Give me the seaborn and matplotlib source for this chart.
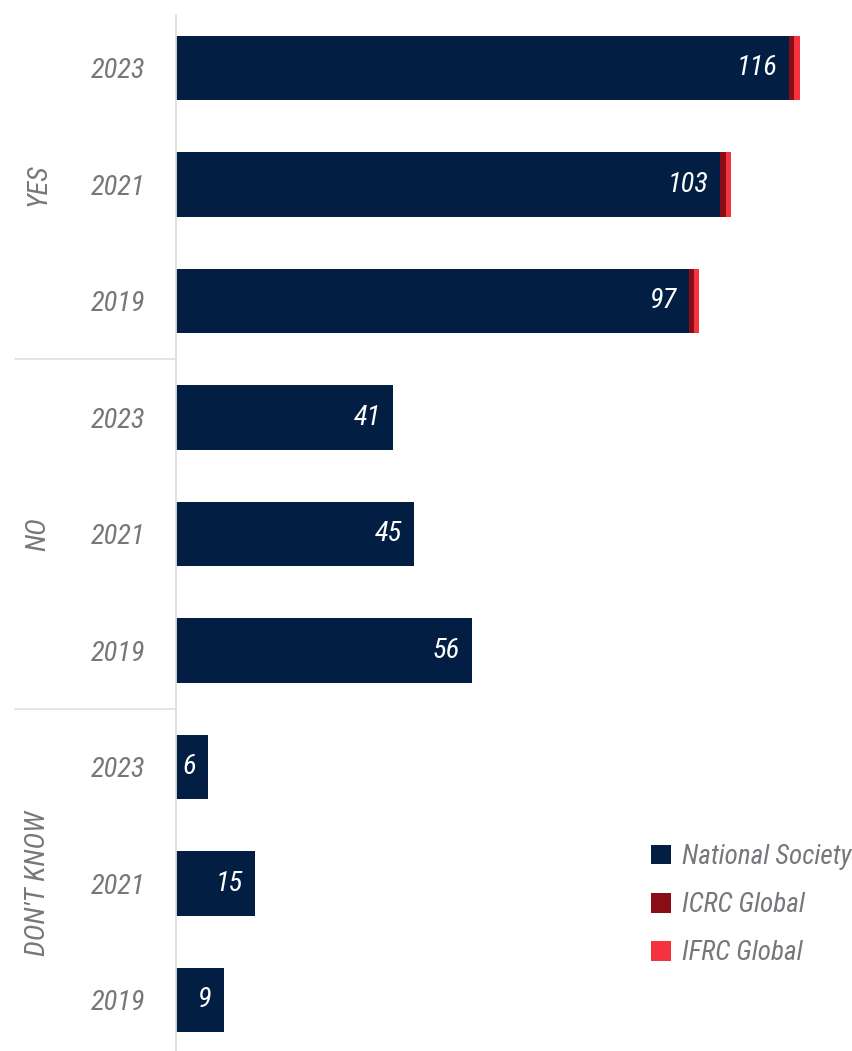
import os
import numpy as np
import pandas as pd
import matplotlib
matplotlib.use("Agg")
import matplotlib.pyplot as plt
from matplotlib import font_manager as fm
from matplotlib.patches import Patch
import matplotlib.transforms as mtrans
import seaborn as sns

# ---------------- data ----------------
groups = ["YES", "NO", "DON'T KNOW"]
years = ["2023", "2021", "2019"]
national_society = [116, 103, 97, 41, 45, 56, 6, 15, 9]
icrc_global = [1, 1, 1, 0, 0, 0, 0, 0, 0]
ifrc_global = [1, 1, 1, 0, 0, 0, 0, 0, 0]
series_names = ["National Society", "ICRC Global", "IFRC Global"]

NAVY = "#021e42"
DARKRED = "#8a0c17"
RED = "#f5333f"
GREY = "#76767b"

# ---------------- font ----------------
prefs = ["RobotoCondensed-Italic", "RobotoCondensed-LightItalic",
         "LiberationSansNarrow-Italic", "NotoSans-CondensedItalic",
         "OpenSans_Condensed-Italic", "OpenSans-CondensedItalic",
         "DejaVuSansCondensed-Oblique"]
files = [f.fname for f in fm.fontManager.ttflist]
font_path = None
for p in prefs:
    for f in files:
        if os.path.basename(f).startswith(p):
            font_path = f
            break
    if font_path:
        break


def fprop(size):
    if font_path:
        fp = fm.FontProperties(fname=font_path)
    else:
        fp = fm.FontProperties(family="Roboto", style="italic")
    fp.set_size(size)
    return fp


FS = 20 if font_path else 17

# ---------------- frame ----------------
rows = [f"{g} {y}" for g in groups for y in years]
df = pd.DataFrame({
    "row": rows,
    "ns": national_society,
    "icrc": icrc_global,
    "ifrc": ifrc_global,
})
df["c_icrc"] = df["ns"] + df["icrc"]
df["c_ifrc"] = df["c_icrc"] + df["ifrc"]

sns.set_style("white")
W, H = 852, 1051
fig = plt.figure(figsize=(W / 100, H / 100), dpi=100)
ax_left, ax_top = 176, 15
ax = fig.add_axes([ax_left / W, 0, (W - ax_left) / W, (H - ax_top) / H])

BW = 0.55
sns.barplot(data=df, x="c_ifrc", y="row", order=rows, orient="y",
            color=RED, width=BW, ax=ax, linewidth=0, saturation=1)
sns.barplot(data=df, x="c_icrc", y="row", order=rows, orient="y",
            color=DARKRED, width=BW, ax=ax, linewidth=0, saturation=1)
sns.barplot(data=df, x="ns", y="row", order=rows, orient="y",
            color=NAVY, width=BW, ax=ax, linewidth=0, saturation=1)

px_per_unit = 5.285
row_px = 116.5
ax.set_xlim(0, (W - ax_left) / px_per_unit)
top_units = (68 - ax_top) / row_px
ax.set_ylim(-top_units + (H - ax_top) / row_px, -top_units)

# value labels
for i, v in enumerate(national_society):
    ax.annotate(str(v), xy=(v, i), xytext=(-12, 0), textcoords="offset pixels",
                ha="right", va="center", color="white",
                fontproperties=fprop(FS + 0.5))

# axes styling
for s in ["top", "right", "bottom"]:
    ax.spines[s].set_visible(False)
ax.spines["left"].set_color("#dedede")
ax.spines["left"].set_linewidth(1.3)
ax.set_xticks([])
ax.set_xlabel("")
ax.set_ylabel("")
ax.set_yticks(range(len(rows)))
ax.set_yticklabels([y for g in groups for y in years])
for lab in ax.get_yticklabels():
    lab.set_fontproperties(fprop(FS + 0.5))
    lab.set_color(GREY)
ax.tick_params(axis="y", length=0, pad=22)

# group separators and labels
blend = mtrans.blended_transform_factory(ax.transAxes, ax.transData)
x0 = (15 - ax_left) / (W - ax_left)
for yb in [2.5, 5.5]:
    ax.plot([x0, 0], [yb, yb], transform=blend, color="#e3e3e3", lw=1.3,
            clip_on=False)
xg = (38 - ax_left) / (W - ax_left)
for gi, g in enumerate(groups):
    ax.text(xg, gi * 3 + 1, g, transform=blend, rotation=90, ha="center",
            va="center", color=GREY, fontproperties=fprop(FS + 0.5))

# legend
handles = [Patch(facecolor=c, edgecolor="none") for c in [NAVY, DARKRED, RED]]
leg = fig.legend(handles, series_names, loc="upper left",
                 bbox_to_anchor=(651 / W, 1 - 844 / H), frameon=False,
                 prop=fprop(FS - 0.5), handlelength=0.74, handleheight=0.74,
                 handletextpad=0.4, labelspacing=0.82, borderpad=0,
                 borderaxespad=0)
for t in leg.get_texts():
    t.set_color(GREY)

fig.savefig("out.png", dpi=100, facecolor="white")
